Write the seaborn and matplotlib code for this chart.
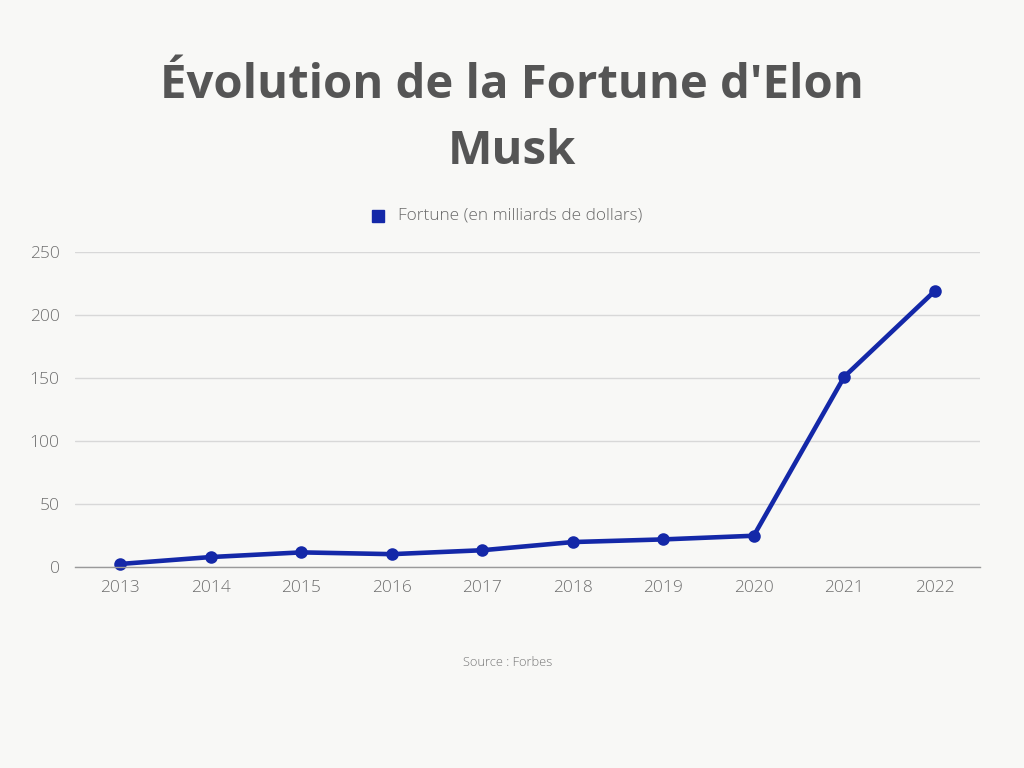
import matplotlib
matplotlib.use("Agg")
import matplotlib.pyplot as plt
import seaborn as sns
import pandas as pd

years = ["2013", "2014", "2015", "2016", "2017", "2018", "2019", "2020", "2021", "2022"]
fortune = [2.4, 7.9, 11.6, 10.2, 13.3, 19.8, 21.9, 24.8, 151, 219]
y_ticks = [0, 50, 100, 150, 200, 250]
series_name = "Fortune (en milliards de dollars)"

df = pd.DataFrame({"Année": years, "Fortune": fortune})

sns.set_theme(style="white")
plt.rcParams["font.family"] = ["Open Sans", "DejaVu Sans"]

bg = "#f8f8f6"
line_col = "#1428a8"
fig = plt.figure(figsize=(10.24, 7.68), dpi=100, facecolor=bg)
ax = fig.add_axes([75/1024, 1 - 567/768, 905/1024, 315/768])
ax.set_facecolor(bg)

sns.pointplot(data=df, x="Année", y="Fortune", color=line_col, ax=ax,
              markers="o", linestyles="-", errorbar=None)
for l in ax.lines:
    l.set_linewidth(3.3)
    l.set_markersize(7)
for c in ax.collections:
    c.set_sizes([50])

ax.set_xlim(-0.5, len(years) - 0.5)
ax.set_ylim(0, 250)
ax.set_yticks(y_ticks)
ax.set_yticklabels([str(v) for v in y_ticks])
ax.yaxis.grid(True, color="#d8d8d8", linewidth=1)
ax.set_axisbelow(True)
for s in ["top", "right", "left"]:
    ax.spines[s].set_visible(False)
ax.spines["bottom"].set_color("#9a9a9a")
ax.spines["bottom"].set_linewidth(1)
ax.set_xlabel("")
ax.set_ylabel("")
ax.tick_params(axis="both", length=0, labelsize=12.5, colors="#6f6f6f")
ax.tick_params(axis="x", pad=9)
ax.tick_params(axis="y", pad=11)
for lab in ax.get_xticklabels() + ax.get_yticklabels():
    lab.set_fontweight("light")
for l in ax.lines:
    l.set_clip_on(False)
for c in ax.collections:
    c.set_clip_on(False)

title_font = dict(fontsize=34, fontweight="bold", color="#555555",
                  family=["Open Sans", "DejaVu Sans"])
fig.text(0.5, 1 - 85/768, "Évolution de la Fortune d'Elon", ha="center", va="center", **title_font)
fig.text(0.5, 1 - 152/768, "Musk", ha="center", va="center", **title_font)

# legend
fig.patches.append(plt.Rectangle((372/1024, 1 - 222/768), 12/1024, 12/768,
                                 transform=fig.transFigure, color=line_col))
fig.text(398/1024, 1 - 216/768, series_name, ha="left", va="center",
         fontsize=12.4, color="#6a6a6a", fontweight="light")

fig.text(508/1024, 1 - 662/768, "Source : Forbes", ha="center", va="center",
         fontsize=9.3, color="#777777", fontweight="light")

fig.savefig("out.png", dpi=100, facecolor=bg)
